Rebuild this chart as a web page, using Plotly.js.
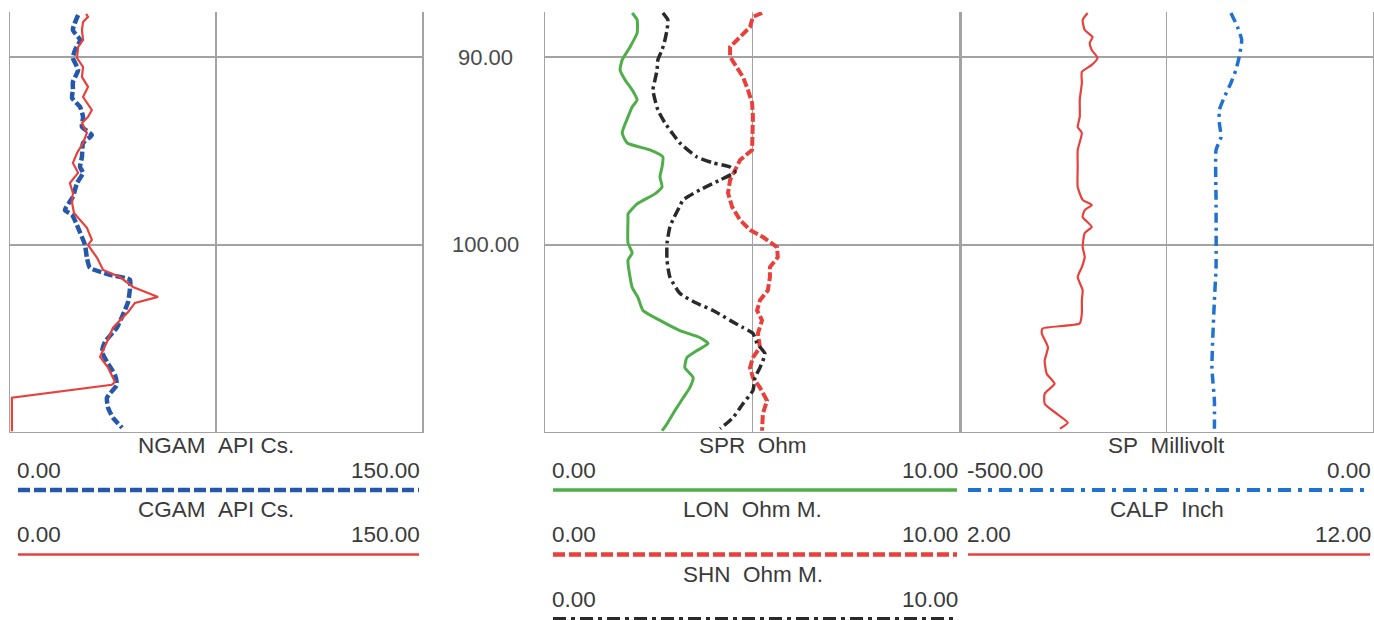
<!DOCTYPE html>
<html><head><meta charset="utf-8">
<script src="https://cdn.plot.ly/plotly-3.0.1.min.js"></script>
<style>html,body{margin:0;padding:0;background:#fff;} #chart{width:1374px;height:620px;}</style>
</head><body><div id="chart"></div>
<script>
// ---------------- DATA ----------------
const depthRange = [109.94, 87.59];
const depthTicks = [90, 100];

// Track 1
const ngamDepth = [87.75,88.55,89.08,89.61,90.04,90.68,91.32,91.74,92.17,92.65,93.18,93.71,94.14,94.57,95.31,95.85,96.16,96.70,97.44,98.14,98.40,99.09,100.00,100.69,101.22,101.59,101.86,102.29,103.03,103.72,104.41,105.16,105.70,106.23,106.92,107.45,108.14,108.67,109.21,109.74];
const ngamValue = [24.8,22.9,25.5,23.7,22.9,24.8,22.9,22.9,22.6,25.5,26.6,26.2,29.8,26.6,26.2,25.5,26.6,24.4,22.9,20.0,22.6,24.8,27.3,28.0,29.1,36.4,43.7,43.7,43.0,41.1,38.9,34.6,33.5,35.3,38.2,38.9,35.3,35.7,37.5,40.8];

const cgamDepth = [87.69,87.85,88.12,88.55,89.08,89.45,90.04,90.52,91.05,91.58,92.12,92.81,93.18,93.50,94.03,94.57,95.10,95.63,96.16,96.70,97.23,97.76,98.30,99.09,99.73,100.00,100.69,101.33,101.71,102.24,102.77,103.09,103.57,104.41,105.16,105.96,106.54,107.29,107.45,108.14,109.94];
const cgamValue = [27.7,28.4,26.6,26.2,26.6,24.8,24.4,26.6,26.2,28.4,26.6,29.8,28.4,26.2,28.0,26.6,24.4,22.9,24.8,21.8,22.9,22.6,23.3,28.0,29.8,28.4,31.7,33.9,40.0,44.8,53.9,45.5,43.0,37.5,35.3,32.8,35.7,38.2,37.1,0.7,0.7];

// Track 2
const sprDepth = [87.64,88.01,88.71,89.45,90.14,90.68,91.21,91.74,92.27,92.65,93.18,94.03,94.57,94.94,95.31,95.85,96.38,96.91,97.28,97.81,98.35,98.51,99.90,100.43,100.81,102.25,102.80,103.49,104.02,104.56,104.93,105.25,105.63,106.00,106.54,107.07,107.60,108.14,108.83,109.53,109.90];
const sprValue = [2.10,2.22,2.22,2.05,1.86,1.81,1.93,2.10,2.22,2.10,2.00,1.86,1.98,2.53,2.84,2.82,2.77,2.82,2.65,2.22,2.00,2.00,2.00,2.10,2.00,2.10,2.24,2.36,2.77,3.25,3.73,3.93,3.66,3.42,3.37,3.57,3.49,3.33,3.13,2.94,2.82];

const lonDepth = [87.64,87.85,88.39,88.92,89.45,89.98,90.52,91.05,91.74,92.43,93.18,94.03,94.94,95.48,96.00,96.54,97.23,97.98,98.67,99.20,99.58,100.11,100.65,101.18,101.71,102.42,102.95,103.49,104.02,104.71,105.46,106.00,106.54,107.07,107.60,108.30,108.99,109.90];
const lonValue = [5.23,5.01,4.94,4.70,4.46,4.46,4.63,4.77,4.89,4.99,5.01,5.01,4.99,4.70,4.58,4.46,4.41,4.51,4.70,4.94,5.25,5.59,5.61,5.42,5.42,5.37,5.18,5.11,5.23,5.13,5.18,5.01,4.94,5.01,5.18,5.35,5.25,5.23];

const shnDepth = [87.64,88.01,88.55,89.08,89.61,90.14,90.68,91.21,91.74,92.27,92.81,93.50,94.03,94.57,95.31,95.63,95.85,96.11,96.54,97.07,97.60,98.14,98.67,99.04,99.90,100.81,101.71,102.58,103.11,103.49,104.02,104.40,104.71,105.25,105.79,106.54,107.07,107.76,108.46,109.20,109.79];
const shnValue = [2.84,2.96,2.94,2.89,2.82,2.72,2.70,2.65,2.60,2.65,2.72,2.89,3.06,3.25,3.66,4.05,4.46,4.58,4.22,3.73,3.33,3.20,3.08,3.01,2.94,2.94,3.01,3.25,3.66,4.05,4.46,4.77,5.01,5.11,5.30,5.18,5.06,5.01,4.77,4.53,4.22];

// Track 3
const spDepth = [87.64,88.39,89.08,89.98,90.68,91.37,92.12,92.81,93.50,94.25,94.94,97.60,101.18,102.95,106.54,108.30,109.79];
const spValue = [-172,-164,-159,-162,-166,-172,-180,-186,-186,-184,-190,-190,-190,-192,-195,-192,-192];

const calpDepth = [87.64,88.01,88.55,88.92,89.24,89.61,90.04,90.41,90.78,91.37,92.27,93.18,93.72,94.03,94.94,95.85,96.91,97.60,97.87,98.14,98.51,99.04,99.36,100.11,100.65,101.18,101.71,102.42,102.95,103.65,104.18,104.45,104.71,105.46,106.16,106.86,107.39,107.93,108.46,108.99,109.47,109.79];
const calpValue = [5.09,4.97,5.02,5.21,5.14,5.19,5.33,5.19,4.95,4.95,4.90,4.90,4.85,4.95,4.85,4.85,4.85,4.97,5.19,5.02,4.97,5.19,5.02,4.97,5.02,4.95,4.85,4.97,4.95,4.95,4.90,4.00,3.98,4.13,4.05,4.10,4.29,4.05,4.05,4.34,4.61,4.42];

// Curve header info
const curveNames = ["NGAM","CGAM","SPR","LON","SHN","SP","CALP"];
const curveUnits = ["API Cs.","API Cs.","Ohm","Ohm M.","Ohm M.","Millivolt","Inch"];
const curveRanges = [[0,150],[0,150],[0,10],[0,10],[0,10],[-500,0],[2,12]];

// ---------------- STYLE / LAYOUT ----------------
const W = 1374, H = 620;
const px = v => v / W;
const py = v => 1 - v / H;
const GRID = '#a3a3a3';
const TXT = '#3a3a3a';
const FONT = 'Liberation Sans, Arial, sans-serif';

const C_BLUE = '#2557aa', C_BLUE2 = '#1f72cf', C_RED = '#e8403b', C_GREEN = '#4fae4a', C_BLACK = '#2a2a2a';

const styles = [
  {color: C_BLUE, width: 4.5, dash: '9px,3px', shape: 'spline'},
  {color: C_RED, width: 2.2, dash: 'solid', shape: 'linear'},
  {color: C_GREEN, width: 3, dash: 'solid', shape: 'spline'},
  {color: C_RED, width: 4, dash: '9px,3px', shape: 'linear'},
  {color: C_BLACK, width: 3.5, dash: '10px,4px,3px,4px', shape: 'spline'},
  {color: C_BLUE2, width: 3.5, dash: '10px,5px,3px,5px', shape: 'spline'},
  {color: C_RED, width: 2.2, dash: 'solid', shape: 'spline'}
];
const series = [
  [ngamValue, ngamDepth, 'x', 'y'],
  [cgamValue, cgamDepth, 'x2', 'y'],
  [sprValue, sprDepth, 'x3', 'y2'],
  [lonValue, lonDepth, 'x4', 'y2'],
  [shnValue, shnDepth, 'x5', 'y2'],
  [spValue, spDepth, 'x6', 'y3'],
  [calpValue, calpDepth, 'x7', 'y3']
];
const traces = series.map((s, i) => ({
  type: 'scatter', mode: 'lines', x: s[0], y: s[1], xaxis: s[2], yaxis: s[3],
  line: {color: styles[i].color, width: styles[i].width, dash: styles[i].dash, shape: styles[i].shape, smoothing: 0.5},
  hoverinfo: 'skip', cliponaxis: true
}));

const tracks = [
  {l: 10, r: 422, curves: [0, 1]},
  {l: 545, r: 960, curves: [2, 3, 4]},
  {l: 960, r: 1373, curves: [5, 6]}
];

const baseX = (dom, rng) => ({
  domain: dom, range: rng, dtick: (rng[1] - rng[0]) / 2, tick0: rng[0],
  showgrid: true, gridcolor: GRID, gridwidth: 1.5, showline: true, linecolor: GRID, linewidth: 1.5,
  zeroline: false, showticklabels: false, ticks: '', fixedrange: true
});
const baseY = (anchor) => ({
  domain: [py(431.5), py(12)], range: depthRange, anchor: anchor, dtick: 10, tick0: 0,
  showgrid: true, gridcolor: GRID, gridwidth: 1.5, showline: true, mirror: true, linecolor: GRID, linewidth: 1.5,
  zeroline: false, showticklabels: false, ticks: '', fixedrange: true
});
const hiddenX = (over, anchor, rng) => ({overlaying: over, anchor: anchor, range: rng, visible: false, fixedrange: true});

const layout = {
  width: W, height: H, margin: {l: 0, r: 0, t: 0, b: 0},
  paper_bgcolor: '#ffffff', plot_bgcolor: 'rgba(0,0,0,0)', showlegend: false,
  xaxis: Object.assign(baseX([px(tracks[0].l), px(tracks[0].r)], curveRanges[0]), {anchor: 'y'}),
  xaxis2: hiddenX('x', 'y', curveRanges[1]),
  xaxis3: Object.assign(baseX([px(tracks[1].l), px(tracks[1].r)], curveRanges[2]), {anchor: 'y2'}),
  xaxis4: hiddenX('x3', 'y2', curveRanges[3]),
  xaxis5: hiddenX('x3', 'y2', curveRanges[4]),
  xaxis6: Object.assign(baseX([px(tracks[2].l), px(tracks[2].r)], curveRanges[5]), {anchor: 'y3'}),
  xaxis7: hiddenX('x6', 'y3', curveRanges[6]),
  yaxis: baseY('x'),
  yaxis2: baseY('x3'),
  yaxis3: baseY('x6'),
  annotations: [],
  shapes: []
};

// depth labels
depthTicks.forEach(d => {
  layout.annotations.push({
    xref: 'paper', yref: 'y', x: px(485), y: d, text: d.toFixed(2), showarrow: false,
    xanchor: 'center', yanchor: 'middle', font: {family: FONT, size: 22, color: '#4a4a4a'}
  });
});

// headers
const ROW = 64.5;
tracks.forEach(t => {
  t.curves.forEach((ci, row) => {
    const mid = (t.l + t.r) / 2;
    const x0 = t.l + 8, x1 = t.r - 3;
    const yTitle = 445 + ROW * row, yVals = 471 + ROW * row - 1, yLine = 490 + ROW * row;
    const rng = curveRanges[ci];
    const f = {family: FONT, size: 22.5, color: TXT};
    layout.annotations.push({xref: 'paper', yref: 'paper', x: px(mid), y: py(yTitle), text: curveNames[ci] + '\u00a0\u00a0' + curveUnits[ci],
      showarrow: false, xanchor: 'center', yanchor: 'middle', font: f});
    layout.annotations.push({xref: 'paper', yref: 'paper', x: px(x0 - 3), y: py(yVals), text: rng[0].toFixed(2),
      showarrow: false, xanchor: 'left', yanchor: 'middle', font: f});
    layout.annotations.push({xref: 'paper', yref: 'paper', x: px(x1 + 3), y: py(yVals), text: rng[1].toFixed(2),
      showarrow: false, xanchor: 'right', yanchor: 'middle', font: f});
    const st = styles[ci];
    layout.shapes.push({type: 'line', xref: 'paper', yref: 'paper', x0: px(x0), x1: px(x1), y0: py(yLine), y1: py(yLine),
      line: {color: st.color, width: Math.min(st.width, 4) + 0.5, dash: st.dash === 'solid' ? 'solid' : st.dash.replace(/(\d+)px/g, (m, n) => (Math.round(n * 1.3)) + 'px')}});
  });
});

Plotly.newPlot('chart', traces, layout, {staticPlot: true, displayModeBar: false});
</script></body></html>
